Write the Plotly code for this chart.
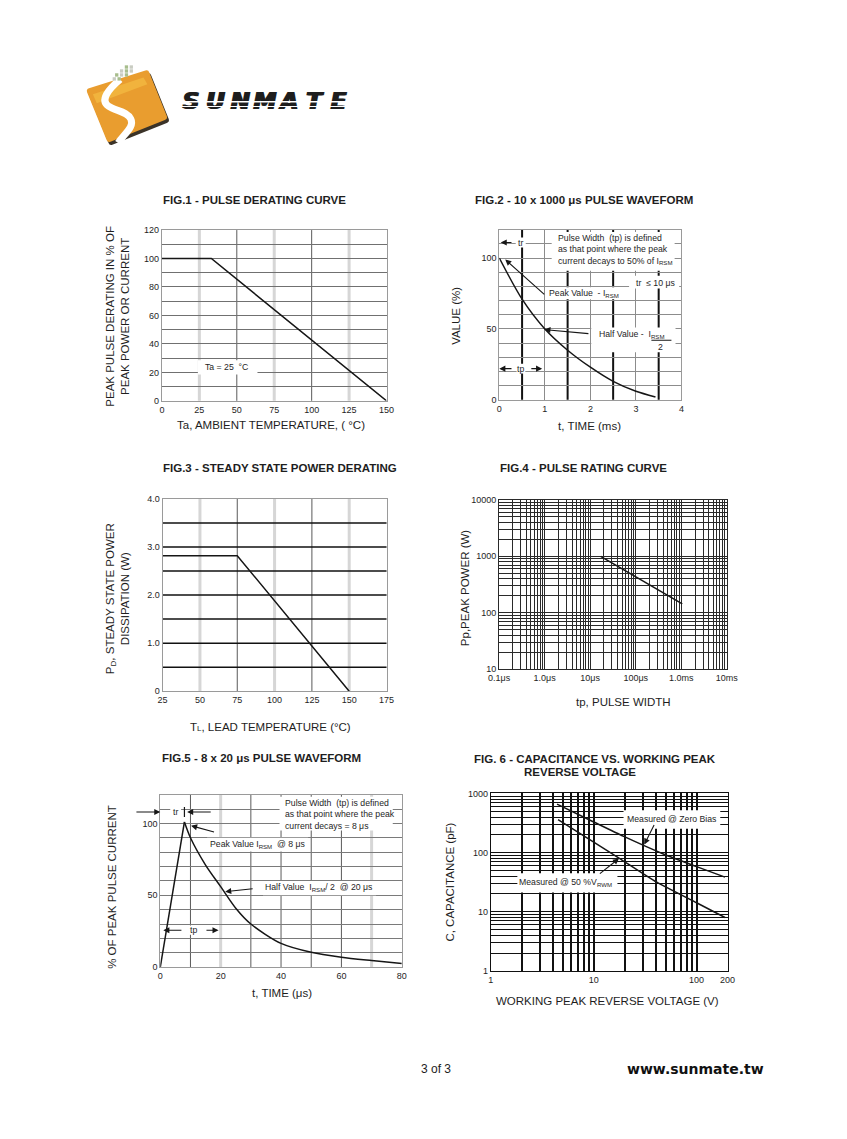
import math
import plotly.graph_objects as go

PAGE_W, PAGE_H = 847, 1139
OFF = 8                      # browser body margin: figure starts at (8, 8) on the page
W, H = PAGE_W - 2 * OFF, PAGE_H - 2 * OFF   # fits the window exactly, no overflow
FONT = "Liberation Sans, Arial, Helvetica, sans-serif"
INK = "#161616"
TXT = "#1e1e1e"
NB = "\u00a0"

# ---------------- data ----------------
fig1_temp_c = [0, 33, 150]
fig1_derating_pct = [100, 100, 0]
fig1_x_ticks = [0, 25, 50, 75, 100, 125, 150]
fig1_y_ticks = [0, 20, 40, 60, 80, 100, 120]

fig2_time_ms = [0, 0.5, 1.0, 1.5, 2.0, 2.5, 3.0, 3.43]
fig2_value_pct = [100, 71, 50, 35, 23, 13, 6, 2]
fig2_x_ticks = [0, 1, 2, 3, 4]
fig2_y_ticks = [0, 50, 100]

fig3_lead_temp_c = [25, 75, 150]
fig3_power_w = [2.82, 2.82, 0]
fig3_x_ticks = [25, 50, 75, 100, 125, 150, 175]
fig3_y_ticks = [0, 1, 2, 3, 4]
fig3_y_labels = ["0", "1.0", "2.0", "3.0", "4.0"]

fig4_pulse_us = [17, 1050]
fig4_power_w = [1000, 143]
fig4_x_ticks = [0.1, 1, 10, 100, 1000, 10000]
fig4_x_labels = ["0.1μs", "1.0μs", "10μs", "100μs", "1.0ms", "10ms"]
fig4_y_ticks = [10, 100, 1000, 10000]

fig5_time_us = [0, 8, 10, 15, 20, 25, 30, 40, 50, 60, 70, 80]
fig5_value_pct = [0, 101, 90, 71, 56, 41, 30, 16.5, 10.3, 6.9, 4.6, 2.5]
fig5_x_ticks = [0, 20, 40, 60, 80]
fig5_y_ticks = [0, 50, 100]

fig6_v_zero = [4.4, 10, 19.6, 47.5, 100, 189]
fig6_c_zero = [660, 330, 188, 95, 58, 38.5]
fig6_v_half = [4.5, 10, 17.6, 41, 100, 189]
fig6_c_half = [360, 151, 81, 31.6, 14.2, 8]
fig6_x_ticks = [1, 10, 100, 200]
fig6_y_ticks = [1, 10, 100, 1000]


# ---------------- helpers (page pixel -> figure paper) ----------------
def xp(x):
    return (x - OFF) / W


def yp(y):
    return 1 - (y - OFF) / H


def xdom(a, b):
    return [xp(a), xp(b)]


def ydom(top, bottom):
    return [yp(bottom), yp(top)]


def labelled(grid_vals, label_vals, label_text=None):
    out = []
    for g in grid_vals:
        t = ""
        for i, v in enumerate(label_vals):
            if math.isclose(g, v, rel_tol=1e-9, abs_tol=1e-12):
                t = label_text[i] if label_text else f"{v:g}"
        out.append(t)
    return out


def log_grid(lo, hi):
    vals = [m * 10 ** e for e in range(lo, hi) for m in range(1, 10)]
    vals.append(10 ** hi)
    return vals


def axis(domain, rng, tickvals, ticktext, anchor, kind="linear", grid=False,
         gridcolor="#777", gridwidth=1, linecolor="#9a9a9a", linewidth=1):
    return dict(domain=domain, range=rng, type=kind, anchor=anchor,
                tickmode="array", tickvals=tickvals, ticktext=ticktext,
                showgrid=grid, gridcolor=gridcolor, gridwidth=gridwidth,
                zeroline=False, showline=True, mirror=True,
                linecolor=linecolor, linewidth=linewidth, ticks="",
                tickfont=dict(family=FONT, size=9, color=TXT), fixedrange=True)


shapes = []
annotations = []


def vline(xr, yr, x, color, width):
    shapes.append(dict(type="line", xref=xr, yref=f"{yr} domain", x0=x, x1=x, y0=0, y1=1,
                       line=dict(color=color, width=width), layer="below"))


def hline(xr, yr, y, color, width):
    shapes.append(dict(type="line", xref=f"{xr} domain", yref=yr, x0=0, x1=1, y0=y, y1=y,
                       line=dict(color=color, width=width), layer="below"))


def box(xr, yr, x0, x1, y0, y1):
    shapes.append(dict(type="rect", xref=xr, yref=yr, x0=x0, x1=x1, y0=y0, y1=y1,
                       fillcolor="white", line=dict(width=0), layer="above"))


def seg(xr, yr, x0, x1, y0, y1, width=1.1):
    shapes.append(dict(type="line", xref=xr, yref=yr, x0=x0, x1=x1, y0=y0, y1=y1,
                       line=dict(color=INK, width=width), layer="above"))


def txt(xr, yr, x, y, text, size=8.7, xanchor="center", align="center", bold=False, angle=0,
        family=FONT, color=TXT):
    annotations.append(dict(xref=xr, yref=yr, x=x, y=y, text=text, showarrow=False,
                            xanchor=xanchor, yanchor="middle", align=align, textangle=angle,
                            font=dict(family=family, size=size, color=color,
                                      weight="bold" if bold else "normal")))


def arrow(xr, yr, xt, yt, xh, yh):
    annotations.append(dict(xref=xr, yref=yr, axref=xr, ayref=yr, x=xh, y=yh, ax=xt, ay=yt,
                            text="", showarrow=True, arrowhead=2, arrowsize=1.1,
                            arrowwidth=1.1, arrowcolor=INK, standoff=0, startstandoff=0))


def page_txt(x, y, text, size=11.5, bold=False, angle=0, family=FONT, color=TXT):
    txt("paper", "paper", xp(x), yp(y), text, size=size, bold=bold, angle=angle,
        family=family, color=color)


fig = go.Figure()
line_style = dict(color=INK, width=1.5)

# ---------------- FIG 1 ----------------
fig.add_trace(go.Scatter(x=fig1_temp_c, y=fig1_derating_pct, mode="lines", line=line_style,
                         xaxis="x", yaxis="y", hoverinfo="skip", showlegend=False))
fig1_ygrid = list(range(0, 121, 10))
for v in fig1_x_ticks[1:-1]:
    if v % 50:
        vline("x", "y", v, "#d6d6d6", 3)
for v in fig1_x_ticks[1:-1]:
    if v % 50 == 0:
        vline("x", "y", v, "#5a5a5a", 1)
box("x", "y", 24, 63.8, 18.5, 28.5)
txt("x", "y", 43.3, 23.9, f"Ta = 25 {NB}°C")

# ---------------- FIG 2 ----------------
fig.add_trace(go.Scatter(x=fig2_time_ms, y=fig2_value_pct, mode="lines",
                         line=dict(color=INK, width=1.5, shape="spline", smoothing=0.8),
                         xaxis="x2", yaxis="y2", hoverinfo="skip", showlegend=False))
fig2_ygrid = list(range(0, 121, 10))
for v in fig2_x_ticks[:-1]:
    vline("x2", "y2", v + 0.5, "#111111", 2)
for b in [(0.36, 0.58, 107.5, 114.5), (1.15, 3.85, 91, 118.5), (2.85, 3.95, 78.5, 87.5),
          (1.07, 2.67, 71, 79.5), (2.02, 3.87, 33.5, 51), (0.38, 0.57, 18.5, 25.5)]:
    box("x2", "y2", *b)
seg("x2", "y2", 3.34, 3.78, 42, 42)
txt("x2", "y2", 0.46, 111, "tr")
txt("x2", "y2", 1.25, 106,
    f"Pulse Width {NB}(tp) is defined<br>as that point where the peak<br>current decays to 50% of I<sub>RSM</sub>",
    xanchor="left", align="left")
txt("x2", "y2", 3.42, 82.7, f"tr {NB}\u2264 10 μs")
txt("x2", "y2", 1.87, 75, f"Peak Value {NB}- I<sub>RSM</sub>")
txt("x2", "y2", 2.92, 46.2, f"Half Value - {NB}I<sub>RSM</sub>")
txt("x2", "y2", 3.55, 37.3, "2")
txt("x2", "y2", 0.47, 22, "tp")
arrow("x2", "y2", -0.43, 111, -0.03, 111)
arrow("x2", "y2", 0.30, 111, 0.03, 111)
arrow("x2", "y2", 1.02, 73.4, 0.13, 99)
arrow("x2", "y2", 1.99, 46.6, 0.99, 49.6)
arrow("x2", "y2", 0.30, 22, 0.0, 22)
arrow("x2", "y2", 0.67, 22, 0.94, 22)

# ---------------- FIG 3 ----------------
fig.add_trace(go.Scatter(x=fig3_lead_temp_c, y=fig3_power_w, mode="lines", line=line_style,
                         xaxis="x3", yaxis="y3", hoverinfo="skip", showlegend=False))
for v in fig3_x_ticks[1:-1]:
    if v % 50 == 0:
        vline("x3", "y3", v, "#d6d6d6", 3)
for v in fig3_x_ticks[1:-1]:
    if v % 50:
        vline("x3", "y3", v, "#5a5a5a", 1)
for k in range(1, 8):
    hline("x3", "y3", k * 0.5, "#111111", 1.5)

# ---------------- FIG 4 ----------------
fig.add_trace(go.Scatter(x=fig4_pulse_us, y=fig4_power_w, mode="lines", line=line_style,
                         xaxis="x4", yaxis="y4", hoverinfo="skip", showlegend=False))
fig4_xgrid = log_grid(-1, 4)
fig4_ygrid = log_grid(1, 4)

# ---------------- FIG 5 ----------------
fig.add_trace(go.Scatter(x=fig5_time_us[:2], y=fig5_value_pct[:2], mode="lines", line=line_style,
                         xaxis="x5", yaxis="y5", hoverinfo="skip", showlegend=False))
fig.add_trace(go.Scatter(x=fig5_time_us[1:], y=fig5_value_pct[1:], mode="lines",
                         line=dict(color=INK, width=1.5, shape="spline", smoothing=0.8),
                         xaxis="x5", yaxis="y5", hoverinfo="skip", showlegend=False))
fig5_ygrid = list(range(0, 121, 10))
fig5_light = [20, 70]
for v in range(10, 80, 10):
    if v in fig5_light:
        vline("x5", "y5", v, "#d6d6d6", 3)
for v in range(10, 80, 10):
    if v not in fig5_light:
        vline("x5", "y5", v, "#5a5a5a", 1)
for b in [(3.3, 6.9, 104.5, 111.5), (39.5, 77, 95, 118.5), (15.5, 49, 80.5, 90),
          (34, 71.5, 50, 60), (9.0, 13.0, 22.5, 29)]:
    box("x5", "y5", *b)
seg("x5", "y5", 8, 8, 104.5, 111.5, width=1.2)
txt("x5", "y5", 5.1, 108, "tr")
txt("x5", "y5", 40.6, 106.2,
    f"Pulse Width {NB}(tp) is defined<br>as that point where the peak<br>current decays = 8 μs",
    xanchor="left", align="left")
txt("x5", "y5", 32.2, 85.1, f"Peak Value I<sub>RSM</sub> {NB}@ 8 μs")
txt("x5", "y5", 52.6, 55.4, f"Half Value {NB}I<sub>RSM</sub>/ 2 {NB}@ 20 μs")
txt("x5", "y5", 11, 25.7, "tp")
arrow("x5", "y5", -8.4, 108, 0, 108)
arrow("x5", "y5", 17.2, 108, 8.9, 108)
arrow("x5", "y5", 18.3, 93.8, 10.2, 98.4)
arrow("x5", "y5", 31.1, 54.7, 21.5, 52.5)
arrow("x5", "y5", 7.5, 25.7, 1.0, 25.7)
arrow("x5", "y5", 14.8, 25.7, 19.3, 25.7)

# ---------------- FIG 6 ----------------
for vx, cy in ((fig6_v_zero, fig6_c_zero), (fig6_v_half, fig6_c_half)):
    fig.add_trace(go.Scatter(x=vx, y=cy, mode="lines",
                             line=dict(color=INK, width=1.5, shape="spline", smoothing=0.6),
                             xaxis="x6", yaxis="y6", hoverinfo="skip", showlegend=False))
fig6_xgrid = log_grid(0, 2) + [200]
fig6_ygrid = log_grid(0, 3)
box("x6", "y6", 19.5, 170, 254, 520)
box("x6", "y6", 1.81, 17, 21.1, 44.7)
txt("x6", "y6", math.log10(57.5), math.log10(364), "Measured @ Zero Bias")
txt("x6", "y6", math.log10(5.3), math.log10(31.6), "Measured @ 50 %V<sub>RWM</sub>")
arrow("x6", "y6", math.log10(39.3), math.log10(310), math.log10(31), math.log10(137))
arrow("x6", "y6", math.log10(11.1), math.log10(42.1), math.log10(17.6), math.log10(79.6))

# ---------------- titles ----------------
page_txt(250, 196.7, "FIG.1 - PULSE DERATING CURVE", bold=True)
page_txt(588.8, 196.7, "FIG.2 - 10 x 1000 μs PULSE WAVEFORM", bold=True)
page_txt(276.7, 467.3, "FIG.3 - STEADY STATE POWER DERATING", bold=True)
page_txt(588.7, 467.3, "FIG.4 - PULSE RATING CURVE", bold=True)
page_txt(257.5, 760, "FIG.5 - 8 x 20 μs PULSE WAVEFORM", bold=True)
page_txt(600.8, 760.7, "FIG. 6 - CAPACITANCE VS. WORKING PEAK", bold=True)
page_txt(585, 774, "REVERSE VOLTAGE", bold=True)

page_txt(267.5, 423.3, "Ta, AMBIENT TEMPERATURE, ( °C)")
page_txt(109.2, 314, "PEAK PULSE DERATING IN % OF<br>PEAK POWER OR CURRENT", angle=-90)
page_txt(595, 425, "t, TIME (ms)")
page_txt(456.7, 313.3, "VALUE (%)", angle=-90)
page_txt(266.7, 728.3, "T<span style='font-size:8px'>L</span>, LEAD TEMPERATURE (°C)")
page_txt(109.2, 599, "P<sub>D</sub>, STEADY STATE POWER<br>DISSIPATION (W)", angle=-90)
page_txt(630, 703.3, "tp, PULSE WIDTH")
page_txt(466.7, 588.3, "Pp,PEAK POWER (W)", angle=-90)
page_txt(278.3, 996.7, "t, TIME (μs)")
page_txt(103.3, 890, "% OF PEAK PULSE CURRENT", angle=-90)
page_txt(613.3, 1005, "WORKING PEAK REVERSE VOLTAGE (V)")
page_txt(451.7, 885, "C, CAPACITANCE (pF)", angle=-90)

# footer
page_txt(436.5, 1073.3, "3 of 3", size=12)
page_txt(704, 1073.3, "www.sunmate.tw", size=14, bold=True, family="DejaVu Sans, Verdana, sans-serif",
         color="#111")


# ---------------- logo (page-pixel overlay axis) ----------------
def pshape(path, fill, line_color=None, line_width=0):
    shapes.append(dict(type="path", xref="x7", yref="y7", path=path, fillcolor=fill,
                       line=dict(color=line_color or fill, width=line_width), layer="above"))


sq = "M 80,84 L 138,66 Q 141,65 142,68 L 160,112 Q 161,115 158,116 L 102,138 Q 99,139 98,136 L 78,88 Q 77,85 80,84 Z"
shadow = "M 82,87 L 140,69 Q 143,68 144,71 L 162,115 Q 163,118 160,119 L 104,141 Q 101,142 100,139 L 80,91 Q 79,88 82,87 Z"
pshape(shadow, "#3b3328")
pshape(sq, "#E99D2F")
shapes.append(dict(type="path", xref="x7", yref="y7",
                   path="M 84,90 L 136,73 L 140,80 L 88,99 Z", fillcolor="rgba(247,196,72,0.55)",
                   line=dict(width=0), layer="above"))
shapes.append(dict(type="path", xref="x7", yref="y7",
                   path="M 112,75 C 100,85 91,96 100,102 C 107,107 119,107 123,115 C 127,123 116,130 110,139",
                   fillcolor="rgba(0,0,0,0)", line=dict(color="white", width=7), layer="above"))
dot_rows = [(62.5, [118.5, 123.5]), (66.5, [113.5, 118.5, 123.5]), (70.5, [108.5, 113.5, 118.5]),
            (74.5, [106.0, 111.0])]
for r, (cy, xs) in enumerate(dot_rows):
    for j, cx in enumerate(xs):
        col = "#A7BD8C" if (r + j) % 2 == 0 else "#C9CCC2"
        shapes.append(dict(type="rect", xref="x7", yref="y7", x0=cx - 1.7, x1=cx + 1.7,
                           y0=cy - 1.7, y1=cy + 1.7, fillcolor=col, line=dict(width=0),
                           layer="above"))

logo_letters = list("SUNMATE")
fig.add_trace(go.Scatter(x=[185 + 25.3 * i for i in range(len(logo_letters))],
                         y=[99.0] * len(logo_letters), mode="text", text=logo_letters,
                         textposition="middle center",
                         textfont=dict(family="DejaVu Sans", size=23, color="#1e1e1e",
                                       weight="bold", style="italic",
                                       shadow="1px 0px 0px #1e1e1e, -1px 0px 0px #1e1e1e"),
                         xaxis="x7", yaxis="y7", hoverinfo="skip", showlegend=False))
for yy, ww in ((97.6, 1.6), (102.4, 1.1)):
    shapes.append(dict(type="line", xref="x7", yref="y7", x0=166, x1=356, y0=yy, y1=yy,
                       line=dict(color="white", width=ww), layer="above"))

# ---------------- layout ----------------
layout = dict(
    width=W, height=H, autosize=False,
    margin=dict(l=0, r=0, t=0, b=0),
    paper_bgcolor="white", plot_bgcolor="rgba(0,0,0,0)",
    font=dict(family=FONT, color=TXT),
    showlegend=False,
    xaxis=axis(xdom(155, 386), [0, 150], fig1_x_ticks, [str(v) for v in fig1_x_ticks], "y"),
    yaxis=axis(ydom(227, 399.3), [0, 120], fig1_ygrid, labelled(fig1_ygrid, fig1_y_ticks), "x",
               grid=True, gridcolor="#707070"),
    xaxis2=axis(xdom(502, 689.3), [0, 4], fig2_x_ticks, [str(v) for v in fig2_x_ticks], "y2",
                grid=True, gridcolor="#8c8c8c"),
    yaxis2=axis(ydom(226.7, 398.3), [0, 120], fig2_ygrid, labelled(fig2_ygrid, fig2_y_ticks), "x2",
                grid=True, gridcolor="#8c8c8c"),
    xaxis3=axis(xdom(155.7, 386), [25, 175], fig3_x_ticks, [str(v) for v in fig3_x_ticks], "y3"),
    yaxis3=axis(ydom(498.3, 692.3), [0, 4], fig3_y_ticks, fig3_y_labels, "x3"),
    xaxis4=axis(xdom(501.7, 736), [-1, 4], fig4_xgrid, labelled(fig4_xgrid, fig4_x_ticks, fig4_x_labels),
                "y4", kind="log", grid=True, gridcolor="#2a2a2a", linecolor="#2a2a2a"),
    yaxis4=axis(ydom(499.3, 670), [1, 4], fig4_ygrid, labelled(fig4_ygrid, fig4_y_ticks), "x4",
                kind="log", grid=True, gridcolor="#2a2a2a", linecolor="#2a2a2a"),
    xaxis5=axis(xdom(153.3, 401.7), [0, 80], fig5_x_ticks, [str(v) for v in fig5_x_ticks], "y5"),
    yaxis5=axis(ydom(796.7, 970.7), [0, 120], fig5_ygrid, labelled(fig5_ygrid, fig5_y_ticks), "x5",
                grid=True, gridcolor="#7a7a7a"),
    xaxis6=axis(xdom(493.3, 736.7), [0, math.log10(200)], fig6_xgrid, labelled(fig6_xgrid, fig6_x_ticks),
                "y6", kind="log", grid=True, gridcolor="#111111", gridwidth=1.6, linecolor="#111111"),
    yaxis6=axis(ydom(795.5, 974.5), [0, 3], fig6_ygrid, labelled(fig6_ygrid, fig6_y_ticks), "x6",
                kind="log", grid=True, gridcolor="#111111", gridwidth=1.4, linecolor="#111111"),
    xaxis7=dict(domain=[0, 1], range=[OFF, OFF + W], visible=False, anchor="y7", fixedrange=True),
    yaxis7=dict(domain=[0, 1], range=[OFF + H, OFF], visible=False, anchor="x7", fixedrange=True),
    shapes=shapes,
    annotations=annotations,
)
fig.update_layout(**layout)
fig.write_html("out.html")
